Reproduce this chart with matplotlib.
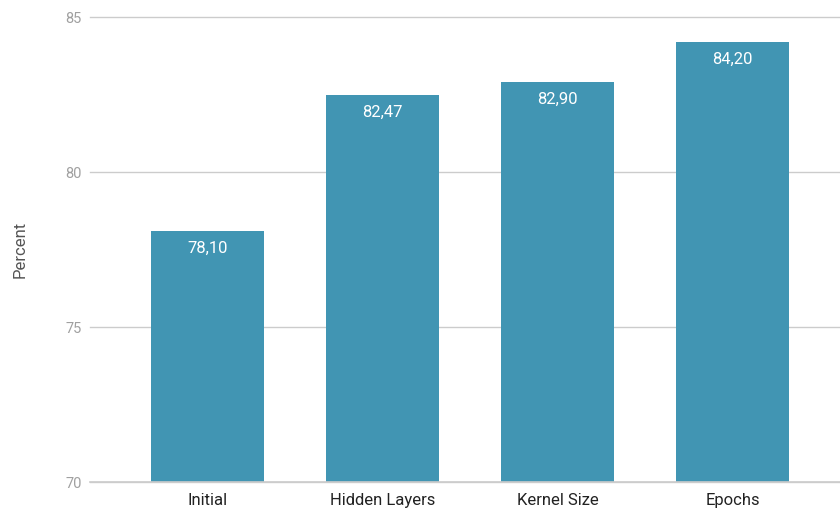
import matplotlib
matplotlib.use("Agg")
import matplotlib.pyplot as plt

categories = ["Initial", "Hidden Layers", "Kernel Size", "Epochs"]
values = [78.10, 82.47, 82.90, 84.20]
yticks = [70, 75, 80, 85]

plt.rcParams["font.family"] = ["Roboto", "DejaVu Sans"]

fig = plt.figure(figsize=(8.4, 5.11), dpi=100)
ax = fig.add_axes([90 / 840, 29 / 511, 750 / 840, 465 / 511])

x = list(range(len(categories)))
bars = ax.bar(x, values, width=0.646, color="#4195B3", zorder=3)

for xi, v in zip(x, values):
    ax.annotate(f"{v:.2f}".replace(".", ","), (xi, v), xytext=(0, -7),
                textcoords="offset points", ha="center", va="top",
                color="white", fontsize=12, zorder=4)

ax.set_ylim(70, 85)
ax.set_xlim(-0.671, 3.614)
ax.set_yticks(yticks)
ax.set_yticklabels([str(t) for t in yticks])
ax.set_xticks(x)
ax.set_xticklabels(categories)
ax.grid(axis="y", color="#cccccc", linewidth=1, zorder=0)
for gl in ax.get_ygridlines():
    gl.set_clip_on(False)
ax.axhline(70, color="#cccccc", linewidth=1.2, zorder=4, clip_on=False)
for s in ax.spines.values():
    s.set_visible(False)
ax.tick_params(axis="y", length=0, pad=6, labelsize=10.5, labelcolor="#a0a0a0")
ax.tick_params(axis="x", length=0, pad=8, labelsize=12, labelcolor="#222222")
ax.set_ylabel("Percent", fontsize=12, color="#555555")
ax.yaxis.set_label_coords(-0.083, 0.5)

fig.savefig("out.png", dpi=100)
